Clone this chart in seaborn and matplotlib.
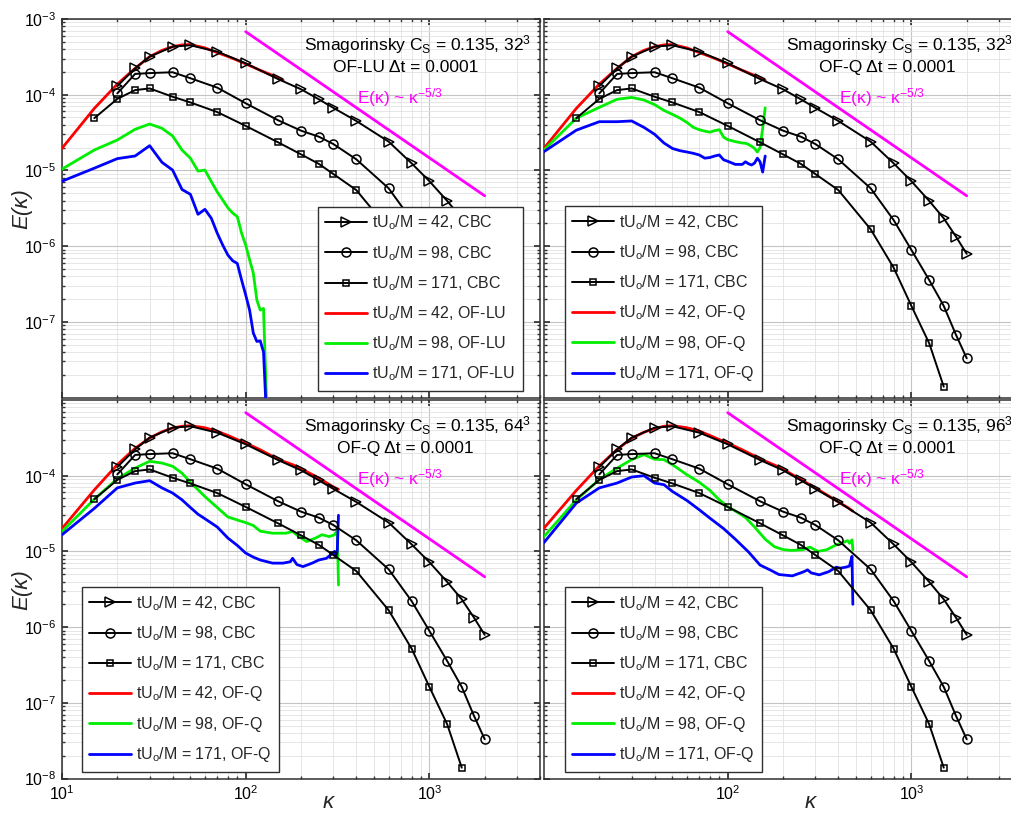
import numpy as np
import pandas as pd
import matplotlib
matplotlib.use("Agg")
import matplotlib.pyplot as plt
import seaborn as sns
from matplotlib.ticker import LogLocator, NullFormatter, FixedLocator, LogFormatterSciNotation

# ---------------- CBC experimental spectra ----------------
k_cbc = [20, 25, 30, 40, 50, 70, 100, 150, 200, 250, 300, 400, 600, 800, 1000, 1250, 1500, 1750, 2000]
E_cbc_42 = [1.30e-4, 2.23e-4, 3.18e-4, 4.31e-4, 4.50e-4, 3.70e-4, 2.60e-4, 1.61e-4, 1.18e-4, 8.7e-5,
            6.7e-5, 4.5e-5, 2.4e-5, 1.24e-5, 7.2e-6, 3.95e-6, 2.33e-6, 1.33e-6, 7.9e-7]
E_cbc_98 = [1.04e-4, 1.88e-4, 1.93e-4, 1.98e-4, 1.65e-4, 1.24e-4, 7.7e-5, 4.6e-5, 3.35e-5, 2.79e-5,
            2.23e-5, 1.40e-5, 5.8e-6, 2.21e-6, 8.9e-7, 3.56e-7, 1.62e-7, 6.7e-8, 3.3e-8]
k_cbc_171 = [15, 20, 25, 30, 40, 50, 70, 100, 150, 200, 250, 300, 400, 600, 800, 1000, 1250, 1500]
E_cbc_171 = [4.9e-5, 8.8e-5, 1.15e-4, 1.21e-4, 9.4e-5, 7.9e-5, 5.9e-5, 3.87e-5, 2.35e-5, 1.63e-5,
             1.22e-5, 8.96e-6, 5.5e-6, 1.67e-6, 5.2e-7, 1.62e-7, 5.2e-8, 1.39e-8]

# ---------------- 32^3, OF-LU ----------------
k_32_42 = [10, 15, 20, 25, 30, 35, 40, 45, 50, 60, 70, 80, 90, 100, 120, 140, 160]
E_lu32_42 = [1.96e-5, 6.6e-5, 1.38e-4, 2.23e-4, 3.18e-4, 3.85e-4, 4.31e-4, 4.55e-4, 4.6e-4, 4.15e-4,
             3.6e-4, 3.2e-4, 2.85e-4, 2.55e-4, 2.1e-4, 1.8e-4, 1.55e-4]
k_lu32 = [10, 15, 20, 25, 30, 35, 40, 45, 50, 55, 60, 65, 70, 75, 80, 85, 90, 95, 100, 105, 110,
          115, 120, 125, 130]
E_lu32_98 = [1.04e-5, 1.86e-5, 2.52e-5, 3.49e-5, 4.1e-5, 3.6e-5, 2.85e-5, 1.86e-5, 1.45e-5, 9.8e-6,
             1.01e-5, 7.1e-6, 5.2e-6, 4.06e-6, 3.2e-6, 2.73e-6, 2.45e-6, 1.48e-6, 1.03e-6, 6.6e-7,
             4.4e-7, 1.94e-7, 1.43e-7, 1.5e-7, 8e-9]
E_lu32_171 = [7.2e-6, 1.07e-5, 1.43e-5, 1.55e-5, 2.12e-5, 1.28e-5, 1.01e-5, 5.6e-6, 4.83e-6, 2.63e-6,
              3.06e-6, 2.33e-6, 1.48e-6, 1.03e-6, 7.6e-7, 6.4e-7, 5.9e-7, 3.56e-7, 2.26e-7, 1.43e-7,
              7.1e-8, 5.5e-8, 5.6e-8, 4.0e-8, 5e-9]

# ---------------- 32^3, OF-Q ----------------
E_q32_42 = E_lu32_42
k_q32 = [10, 15, 20, 25, 30, 35, 40, 45, 50, 55, 60, 65, 70, 75, 80, 85, 90, 95, 100, 110, 120, 125,
         130, 135, 140, 145, 150, 155, 160]
E_q32_98 = [1.86e-5, 4.9e-5, 6.8e-5, 8.7e-5, 9.2e-5, 8.5e-5, 7.4e-5, 6.2e-5, 5.5e-5, 4.9e-5, 4.3e-5,
            3.7e-5, 3.45e-5, 3.3e-5, 3.2e-5, 3.35e-5, 3.45e-5, 2.75e-5, 2.55e-5, 2.4e-5, 2.3e-5,
            2.28e-5, 2.2e-5, 2.08e-5, 1.95e-5, 1.75e-5, 2.0e-5, 3.6e-5, 6.7e-5]
E_q32_171 = [1.77e-5, 3.4e-5, 4.4e-5, 4.4e-5, 4.5e-5, 3.7e-5, 3.0e-5, 2.3e-5, 1.95e-5, 1.82e-5,
             1.75e-5, 1.68e-5, 1.6e-5, 1.45e-5, 1.48e-5, 1.55e-5, 1.6e-5, 1.38e-5, 1.32e-5, 1.2e-5,
             1.2e-5, 1.3e-5, 1.22e-5, 1.18e-5, 1.25e-5, 1.45e-5, 1.3e-5, 9.5e-6, 1.55e-5]

# ---------------- 64^3, OF-Q ----------------
k_64_42 = [10, 15, 20, 25, 30, 35, 40, 45, 50, 60, 70, 80, 90, 100, 120, 140, 160, 180, 200, 250, 300, 320]
E_q64_42 = [2.0e-5, 6.5e-5, 1.4e-4, 2.3e-4, 3.15e-4, 3.8e-4, 4.27e-4, 4.5e-4, 4.58e-4, 4.3e-4, 3.86e-4,
            3.4e-4, 3.0e-4, 2.7e-4, 2.2e-4, 1.8e-4, 1.55e-4, 1.4e-4, 1.24e-4, 9.3e-5, 7.1e-5, 6.6e-5]
k_64_98 = [10, 15, 20, 25, 30, 35, 40, 45, 50, 60, 70, 80, 90, 100, 110, 120, 140, 165, 180, 195, 215,
           240, 260, 285, 305, 315, 320]
E_q64_98 = [1.83e-5, 4.9e-5, 9.1e-5, 1.26e-4, 1.55e-4, 1.47e-4, 1.33e-4, 1.08e-4, 8.2e-5, 5.3e-5,
            3.8e-5, 2.85e-5, 2.6e-5, 2.4e-5, 2.2e-5, 1.85e-5, 1.74e-5, 1.74e-5, 1.83e-5, 1.57e-5,
            1.35e-5, 1.5e-5, 1.66e-5, 1.57e-5, 1.66e-5, 1.93e-5, 3.6e-6]
k_64_171 = [10, 15, 20, 25, 30, 35, 40, 45, 50, 55, 60, 70, 80, 90, 100, 110, 120, 140, 160, 175, 180,
            190, 205, 230, 250, 275, 290, 305, 310, 315, 320]
E_q64_171 = [1.66e-5, 3.7e-5, 6.9e-5, 8.0e-5, 8.6e-5, 6.9e-5, 5.9e-5, 4.8e-5, 3.8e-5, 3.1e-5, 2.7e-5,
             2.1e-5, 1.5e-5, 1.2e-5, 9.5e-6, 8.4e-6, 7.7e-6, 7.0e-6, 7.0e-6, 7.3e-6, 8.1e-6, 6.7e-6,
             6.3e-6, 7.0e-6, 7.7e-6, 8.1e-6, 9.0e-6, 1.0e-5, 8.5e-6, 1.0e-5, 3.0e-5]

# ---------------- 96^3, OF-Q ----------------
k_96_42 = [10, 15, 20, 25, 30, 35, 40, 45, 50, 60, 70, 80, 90, 100, 120, 140, 160, 180, 200, 250, 300,
           350, 400, 450, 480]
E_q96_42 = [2.03e-5, 6.4e-5, 1.35e-4, 2.22e-4, 3.12e-4, 3.75e-4, 4.2e-4, 4.5e-4, 4.58e-4, 4.3e-4,
            3.9e-4, 3.4e-4, 3.0e-4, 2.7e-4, 2.2e-4, 1.82e-4, 1.56e-4, 1.38e-4, 1.22e-4, 8.9e-5, 6.9e-5,
            5.5e-5, 4.5e-5, 3.8e-5, 3.4e-5]
k_96_98 = [10, 15, 20, 25, 30, 35, 40, 45, 50, 60, 70, 80, 90, 100, 115, 125, 140, 160, 180, 200, 220,
           255, 280, 310, 345, 390, 425, 450, 460, 475, 480]
E_q96_98 = [1.57e-5, 4.8e-5, 8.9e-5, 1.26e-4, 1.63e-4, 1.9e-4, 1.65e-4, 1.63e-4, 1.4e-4, 1.03e-4,
            8.2e-5, 6.4e-5, 4.8e-5, 3.9e-5, 3.2e-5, 2.8e-5, 2.1e-5, 1.45e-5, 1.15e-5, 1.06e-5,
            1.03e-5, 1.05e-5, 1.14e-5, 1.0e-5, 1.05e-5, 1.22e-5, 1.31e-5, 1.39e-5, 1.28e-5, 1.42e-5,
            1.05e-5]
k_96_171 = [10, 15, 20, 25, 30, 35, 40, 45, 50, 60, 70, 80, 95, 110, 130, 150, 170, 190, 225, 260, 272,
            285, 315, 355, 390, 410, 440, 460, 475, 480]
E_q96_171 = [1.31e-5, 4.35e-5, 6.9e-5, 8.0e-5, 9.6e-5, 1.0e-4, 8.0e-5, 7.6e-5, 6.2e-5, 4.7e-5,
             3.55e-5, 2.75e-5, 2.0e-5, 1.45e-5, 9.8e-6, 6.6e-6, 5.7e-6, 4.95e-6, 4.75e-6, 5.4e-6,
             5.7e-6, 5.2e-6, 4.9e-6, 5.4e-6, 6.2e-6, 6.0e-6, 6.2e-6, 6.4e-6, 8.6e-6, 2.0e-6]

# Kolmogorov -5/3 reference line
k_kolmo = np.array([100.0, 2000.0])
C_kolmo = 1.465
E_kolmo = C_kolmo * k_kolmo ** (-5.0 / 3.0)

times = [42, 98, 171]

# ---------------- style ----------------
sns.set_theme(style="white")
plt.rcParams["font.family"] = ["Liberation Sans", "DejaVu Sans"]
plt.rcParams.update({
    "mathtext.fontset": "custom",
    "mathtext.rm": "Liberation Sans",
    "mathtext.it": "Liberation Sans:italic",
    "mathtext.bf": "Liberation Sans:bold",
    "axes.edgecolor": "#303030",
    "axes.linewidth": 1.1,
    "xtick.color": "#303030",
    "ytick.color": "#303030",
    "xtick.labelcolor": "black",
    "ytick.labelcolor": "black",
})

W, H = 1011, 814
fig = plt.figure(figsize=(W / 100, H / 100), dpi=100)


def rect(x0, x1, y0, y1):
    return [x0 / W, 1 - y1 / H, (x1 - x0) / W, (y1 - y0) / H]


panels = [
    dict(rect=rect(62, 540, 19, 397.5), scheme="OF-LU", grid="32",
         of=[(k_32_42, E_lu32_42), (k_lu32, E_lu32_98), (k_lu32, E_lu32_171)],
         leg=("lower right", (0.964, 0.018)), left=True, bottom=False),
    dict(rect=rect(544, 1022, 19, 397.5), scheme="OF-Q", grid="32",
         of=[(k_32_42, E_q32_42), (k_q32, E_q32_98), (k_q32, E_q32_171)],
         leg=("lower left", (0.044, 0.018)), left=False, bottom=False),
    dict(rect=rect(62, 540, 400, 778.5), scheme="OF-Q", grid="64",
         of=[(k_64_42, E_q64_42), (k_64_98, E_q64_98), (k_64_171, E_q64_171)],
         leg=("lower left", (0.042, 0.018)), left=True, bottom=True),
    dict(rect=rect(544, 1022, 400, 778.5), scheme="OF-Q", grid="96",
         of=[(k_96_42, E_q96_42), (k_96_98, E_q96_98), (k_96_171, E_q96_171)],
         leg=("lower left", (0.044, 0.018)), left=False, bottom=True),
]

cbc_series = [
    (k_cbc, E_cbc_42, ">", 7.5),
    (k_cbc, E_cbc_98, "o", 6.5),
    (k_cbc_171, E_cbc_171, "s", 4.8),
]
of_colors = ["#ff0000", "#00ee00", "#0000ff"]

for p in panels:
    ax = fig.add_axes(p["rect"])
    ax.set_xscale("log")
    ax.set_yscale("log")
    ax.set_xlim(10, 4000)
    ax.set_ylim(1e-8, 1e-3)
    ax.set_axisbelow(True)

    handles, labels = [], []
    for (k, E, mk, ms), t in zip(cbc_series, times):
        sns.lineplot(x=k, y=E, ax=ax, color="black", linewidth=1.4, marker=mk, markersize=ms,
                     markerfacecolor="none", markeredgecolor="black", markeredgewidth=1.1,
                     zorder=4)
        handles.append(ax.lines[-1])
        labels.append(r"tU$_\mathregular{o}$/M = %d, CBC" % t)
    for (k, E), c, t in zip(p["of"], of_colors, times):
        sns.lineplot(x=k, y=E, ax=ax, color=c, linewidth=2.0, zorder=3)
        handles.append(ax.lines[-1])
        labels.append(r"tU$_\mathregular{o}$/M = %d, %s" % (t, p["scheme"]))
    sns.lineplot(x=k_kolmo, y=E_kolmo, ax=ax, color="#ff00ff", linewidth=2.0, zorder=3)

    # grid and ticks
    ax.xaxis.set_minor_locator(LogLocator(base=10, subs=np.arange(2, 10), numticks=100))
    ax.yaxis.set_minor_locator(LogLocator(base=10, subs=np.arange(2, 10), numticks=100))
    ax.xaxis.set_minor_formatter(NullFormatter())
    ax.yaxis.set_minor_formatter(NullFormatter())
    if p["bottom"]:
        ax.yaxis.set_major_locator(FixedLocator([1e-8, 1e-7, 1e-6, 1e-5, 1e-4]))
    else:
        ax.yaxis.set_major_locator(FixedLocator([1e-7, 1e-6, 1e-5, 1e-4, 1e-3]))
    if p["left"]:
        ax.xaxis.set_major_locator(FixedLocator([10, 100, 1000]))
    else:
        ax.xaxis.set_major_locator(FixedLocator([100, 1000]))
    ax.xaxis.set_major_formatter(LogFormatterSciNotation())
    ax.yaxis.set_major_formatter(LogFormatterSciNotation())
    ax.grid(True, which="major", color="#c4c4c4", linewidth=0.8)
    ax.grid(True, which="minor", color="#e2e2e2", linewidth=0.6)
    ax.tick_params(which="both", direction="in", top=True, right=True, bottom=True, left=True)
    ax.tick_params(which="major", length=4, labelsize=11.5, pad=4)
    ax.tick_params(which="minor", length=2)
    ax.tick_params(labelleft=p["left"], labelbottom=p["bottom"])

    if p["left"]:
        ax.set_ylabel("E(κ)", fontsize=16, style="italic")
        ax.yaxis.set_label_coords(-0.063, 0.5)
    else:
        ax.set_ylabel("")
    if p["bottom"]:
        ax.set_xlabel("κ", fontsize=16, style="italic")
        ax.xaxis.label.set_verticalalignment("bottom")
        ax.xaxis.set_label_coords(0.556, -0.090)
    else:
        ax.set_xlabel("")

    # annotations
    ax.text(0.743, 0.918, r"Smagorinsky C$_\mathregular{S}$ = 0.135, %s$^\mathregular{3}$" % p["grid"],
            transform=ax.transAxes, ha="center", va="baseline", fontsize=12.5, color="black")
    ax.text(0.718, 0.860, "%s Δt = 0.0001" % p["scheme"], transform=ax.transAxes,
            ha="center", va="baseline", fontsize=12.5, color="black")
    ax.text(0.617, 0.776, r"E(κ) ~ κ$^\mathregular{-5/3}$", transform=ax.transAxes,
            ha="left", va="baseline", fontsize=12.5, color="#ff00ff")

    loc, anchor = p["leg"]
    leg = ax.legend(handles, labels, loc=loc, bbox_to_anchor=anchor, borderaxespad=0,
                    frameon=True, fancybox=False, framealpha=1, edgecolor="#303030",
                    fontsize=11.5, handlelength=2.6, handletextpad=0.35, labelspacing=0.72,
                    borderpad=0.45, numpoints=1)
    leg.get_frame().set_linewidth(1.0)
    leg.set_zorder(10)

fig.savefig("out.png", dpi=100)
